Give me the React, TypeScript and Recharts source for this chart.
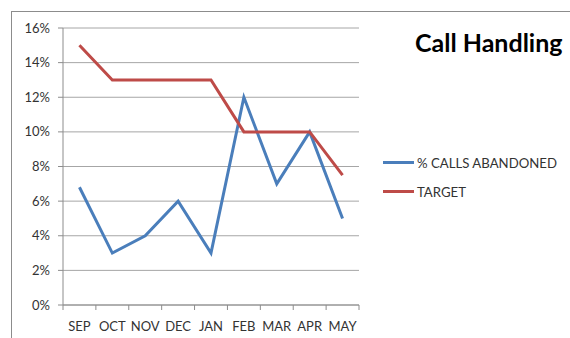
import { LineChart, Line, XAxis, YAxis, CartesianGrid } from "recharts";

const months = ["SEP", "OCT", "NOV", "DEC", "JAN", "FEB", "MAR", "APR", "MAY"];
const abandoned = [0.068, 0.03, 0.04, 0.06, 0.03, 0.12, 0.07, 0.1, 0.05];
const target = [0.15, 0.13, 0.13, 0.13, 0.13, 0.1, 0.1, 0.1, 0.075];
const yTicks = [0, 0.02, 0.04, 0.06, 0.08, 0.1, 0.12, 0.14, 0.16];
const seriesNames = ["% CALLS ABANDONED", "TARGET"];
const seriesColors = ["#4a7ebb", "#be4b48"];

const data = months.map((m, i) => ({ month: m, abandoned: abandoned[i], target: target[i] }));

const W = 570;
const H = 338;
const LEFT = 63;
const RIGHT = 211;
const TOP = 28;
const BOTTOM = 33;
const plotBottom = H - BOTTOM;
const band = (W - LEFT - RIGHT) / months.length;

const font = "Lato, 'Open Sans', sans-serif";

const MonthTick = (props: any) => {
  const { x, payload, index } = props;
  return (
    <g>
      <line x1={x - band / 2} x2={x - band / 2} y1={plotBottom} y2={plotBottom + 5} stroke="#8c8c8c" />
      {index === months.length - 1 && (
        <line x1={x + band / 2} x2={x + band / 2} y1={plotBottom} y2={plotBottom + 5} stroke="#8c8c8c" />
      )}
      <text x={x} y={plotBottom + 26} textAnchor="middle" fill="#333" fontSize={13} fontFamily={font}>
        {payload.value}
      </text>
    </g>
  );
};

export default function App() {
  return (
    <div style={{ position: "absolute", left: 0, top: 0, width: W, height: H, background: "#fff", overflow: "hidden" }}>
      <div
        style={{
          position: "absolute",
          left: 11,
          top: 11,
          width: W,
          height: H,
          borderLeft: "1.5px solid #8c8c8c",
          borderTop: "1.5px solid #8c8c8c",
        }}
      />
      <div
        style={{
          position: "absolute",
          left: 415,
          top: 27,
          fontFamily: font,
          fontWeight: 700,
          fontSize: 25,
          color: "#000",
        }}
      >
        Call Handling
      </div>
      <div style={{ position: "absolute", left: 383, top: 148, fontFamily: font, fontSize: 13.2, color: "#333" }}>
        {seriesNames.map((name, i) => (
          <div key={name} style={{ display: "flex", alignItems: "center", height: 29 }}>
            <div style={{ width: 31, height: 3, background: seriesColors[i], marginRight: 3 }} />
            <span>{name}</span>
          </div>
        ))}
      </div>
      <LineChart width={W} height={H} data={data} margin={{ top: TOP, right: RIGHT, bottom: 0, left: 0 }}>
        <CartesianGrid vertical={false} stroke="#a6a6a6" />
        <XAxis
          dataKey="month"
          scale="band"
          height={BOTTOM}
          stroke="#8c8c8c"
          tickLine={false}
          tick={<MonthTick />}
          interval={0}
        />
        <YAxis
          width={LEFT}
          domain={[0, 0.16]}
          ticks={yTicks}
          stroke="#8c8c8c"
          tickSize={5}
          tickMargin={8}
          tickFormatter={(v: number) => `${Math.round(v * 100)}%`}
          tick={{ fill: "#333", fontSize: 13, fontFamily: font }}
        />
        <Line dataKey="abandoned" stroke={seriesColors[0]} strokeWidth={3} dot={false} isAnimationActive={false} />
        <Line dataKey="target" stroke={seriesColors[1]} strokeWidth={3} dot={false} isAnimationActive={false} />
      </LineChart>
    </div>
  );
}
